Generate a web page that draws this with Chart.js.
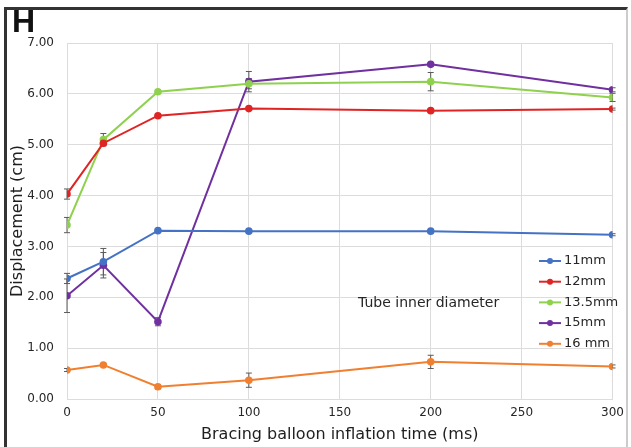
<!DOCTYPE html>
<html>
<head>
<meta charset="utf-8">
<script src="https://cdn.jsdelivr.net/npm/chart.js@4/dist/chart.umd.min.js"></script>
<style>
  html, body { margin: 0; padding: 0; background: #fff; }
  #wrap { position: relative; width: 631px; height: 447px; overflow: hidden; }
  #chart { position: absolute; left: 0; top: 0; }
  #frame {
    position: absolute; left: 4px; top: 7px; width: 619px; height: 450px;
    border-left: 3px solid #333; border-top: 3px solid #333; border-right: 2px solid #ccc;
    pointer-events: none;
  }
  #panel {
    position: absolute; left: 12px; top: 3px;
    font: bold 32px "Liberation Sans", Arial, sans-serif; color: #111;
  }
</style>
</head>
<body>
<div id="wrap">
  <canvas id="chart" width="631" height="447"></canvas>
  <div id="frame"></div>
  <div id="panel">H</div>
</div>
<script>
const TIMES = [0, 20, 50, 100, 200, 300];
const X_TICKS = [0, 50, 100, 150, 200, 250, 300];
const Y_TICKS = [0, 1, 2, 3, 4, 5, 6, 7];

const LABELS = ['11mm', '12mm', '13.5mm', '15mm', '16 mm'];
const COLORS = ['#4472c4', '#e02424', '#8fd14f', '#7030a0', '#f07f2f'];

const D11 = [2.37, 2.70, 3.31, 3.30, 3.30, 3.23];
const D12 = [4.03, 5.03, 5.57, 5.71, 5.67, 5.70];
const D135 = [3.42, 5.10, 6.04, 6.20, 6.24, 5.93];
const D15 = [2.03, 2.63, 1.52, 6.24, 6.58, 6.08];
const D16 = [0.57, 0.67, 0.24, 0.37, 0.73, 0.64];

const E11 = [0.10, 0.26, 0.02, 0.02, 0.02, 0.02];
const E12 = [0.10, 0.05, 0.03, 0.02, 0.03, 0.02];
const E135 = [0.15, 0.12, 0.03, 0.10, 0.18, 0.08];
const E15 = [0.33, 0.25, 0.08, 0.20, 0.03, 0.04];
const E16 = [0.03, 0.03, 0.04, 0.14, 0.13, 0.03];

const SERIES = [D11, D12, D135, D15, D16];
const ERRORS = [E11, E12, E135, E15, E16];

const TICK_FONT = { family: 'DejaVu Sans', size: 12 };
const TEXT_COLOR = '#262626';

// error bars go under the points, like the original
const errorBars = {
    id: 'errorBars',
    beforeDatasetsDraw(chart) {
        const ctx = chart.ctx;
        const y = chart.scales.y;
        ctx.save();
        ctx.strokeStyle = '#5a5a5a';
        ctx.lineWidth = 1;
        chart.data.datasets.forEach((ds, i) => {
            const meta = chart.getDatasetMeta(i);
            meta.data.forEach((pt, j) => {
                const err = ERRORS[i][j];
                const v = ds.data[j].y;
                const top = y.getPixelForValue(v + err);
                const bot = y.getPixelForValue(v - err);
                ctx.beginPath();
                ctx.moveTo(pt.x, top); ctx.lineTo(pt.x, bot);
                ctx.moveTo(pt.x - 3, top); ctx.lineTo(pt.x + 3, top);
                ctx.moveTo(pt.x - 3, bot); ctx.lineTo(pt.x + 3, bot);
                ctx.stroke();
            });
        });
        ctx.restore();
    }
};

const insideLegend = {
    id: 'insideLegend',
    afterDraw(chart) {
        const ctx = chart.ctx;
        ctx.save();
        ctx.font = '13px "DejaVu Sans"';
        ctx.textBaseline = 'middle';
        chart.data.datasets.forEach((ds, i) => {
            const yy = 261 + i * 20.7;
            ctx.strokeStyle = ds.borderColor;
            ctx.lineWidth = 2;
            ctx.beginPath();
            ctx.moveTo(539, yy); ctx.lineTo(561, yy);
            ctx.stroke();
            ctx.fillStyle = ds.borderColor;
            ctx.beginPath();
            ctx.arc(550, yy, 3, 0, Math.PI * 2);
            ctx.fill();
            ctx.fillStyle = TEXT_COLOR;
            ctx.fillText(ds.label, 564, yy);
        });
        ctx.font = '14px "DejaVu Sans"';
        ctx.fillStyle = TEXT_COLOR;
        ctx.fillText('Tube inner diameter', 358, 303);
        ctx.restore();
    }
};

const datasets = LABELS.map((label, i) => ({
    label,
    data: TIMES.map((t, j) => ({ x: t, y: SERIES[i][j] })),
    borderColor: COLORS[i],
    backgroundColor: COLORS[i],
    borderWidth: 2,
    pointRadius: 3.8,
    pointBorderWidth: 0,
    tension: 0
}));

new Chart(document.getElementById('chart'), {
    type: 'line',
    data: { datasets },
    plugins: [errorBars, insideLegend],
    options: {
        responsive: false,
        animation: false,
        layout: { padding: { top: 43, right: 14, left: 0, bottom: 0 } },
        plugins: { legend: { display: false }, tooltip: { enabled: false } },
        scales: {
            x: {
                type: 'linear',
                min: 0, max: 300,
                afterBuildTicks(scale) { scale.ticks = X_TICKS.map(v => ({ value: v })); },
                afterFit(scale) { scale.height = 48; },
                grid: { color: '#dcdcdc', drawTicks: false },
                border: { color: '#dcdcdc' },
                ticks: { font: TICK_FONT, color: TEXT_COLOR, padding: 7, maxRotation: 0 },
                title: {
                    display: true,
                    text: 'Bracing balloon inflation time (ms)',
                    font: { family: 'DejaVu Sans', size: 16 },
                    color: '#1e1e1e',
                    padding: { top: 0, bottom: 3 }
                }
            },
            y: {
                min: 0, max: 7,
                afterBuildTicks(scale) { scale.ticks = Y_TICKS.map(v => ({ value: v })); },
                afterFit(scale) { scale.width = 67; },
                grid: { color: '#dcdcdc', drawTicks: false },
                border: { color: '#dcdcdc' },
                ticks: {
                    font: TICK_FONT, color: TEXT_COLOR, padding: 13,
                    callback(value) { return Number(value).toFixed(2); }
                },
                title: {
                    display: true,
                    text: 'Displacement (cm)',
                    font: { family: 'DejaVu Sans', size: 16 },
                    color: '#1e1e1e',
                    padding: { top: 8, bottom: 0 }
                }
            }
        }
    }
});
</script>
</body>
</html>
